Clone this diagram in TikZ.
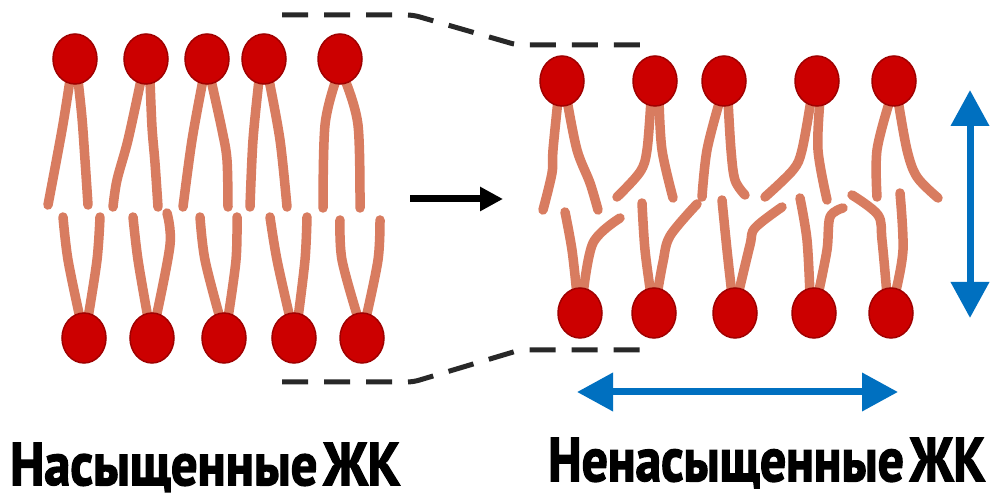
\documentclass[tikz,border=0pt]{standalone}
\usepackage{fontspec}
\usepackage{graphicx}
\newfontfamily\capfont{PT Sans}[BoldFeatures={FakeBold=2.5}]
\usetikzlibrary{arrows.meta,shapes.geometric}

\definecolor{headred}{RGB}{204,0,0}
\definecolor{headedge}{RGB}{160,0,0}
\definecolor{tailc}{RGB}{216,124,96}
\definecolor{dashc}{RGB}{40,40,40}
\definecolor{arrowblue}{RGB}{0,112,192}

\tikzset{
  head/.style={ellipse, fill=headred, draw=headedge, line width=1.5pt,
               minimum width=44pt, minimum height=50pt, inner sep=0pt},
  tail/.style={draw=tailc, line width=9.5pt, line cap=round, line join=round},
  guide/.style={draw=dashc, line width=5pt, dash pattern=on 26pt off 16pt,
                rounded corners=6pt},
  shift arrow/.style={draw=black, line width=7pt,
                -{Triangle[length=23pt,width=23pt]}},
  size arrow/.style={draw=arrowblue, line width=7pt,
                {Triangle[length=36pt,width=37pt]}-{Triangle[length=36pt,width=37pt]}},
  caption/.style={anchor=base west, inner sep=0pt, font=\capfont\bfseries},
}

\newcommand{\tailline}[1]{\draw[tail] plot[smooth, tension=0.55] coordinates {#1};}

\begin{document}
\begin{tikzpicture}[x=1pt,y=-1pt]
\useasboundingbox (0,0) rectangle (1002,502);
\fill[white] (0,0) rectangle (1002,502);

% ---- saturated bilayer: tails of the upper leaflet
\tailline{(70,80) (62,130) (48,205)}
\tailline{(78,80) (82,118) (85,160) (88,205)}
\tailline{(141,80) (128,140) (117,180) (113,207)}
\tailline{(150,80) (152,127) (155,163) (158,207)}
\tailline{(203,80) (192,140) (183,207)}
\tailline{(211,80) (222,130) (227,160) (228,207)}
\tailline{(259,80) (253,140) (250,207)}
\tailline{(269,80) (280,140) (287,207)}
\tailline{(336,80) (325,125) (323,208)}
\tailline{(345,80) (358,125) (360,208)}
% tails of the lower leaflet
\tailline{(80,318) (68,260) (63,217)}
\tailline{(88,318) (97,260) (100,217)}
\tailline{(148,318) (138,260) (133,217)}
\tailline{(156,318) (170,245) (167,213)}
\tailline{(220,318) (205,260) (200,217)}
\tailline{(228,318) (236,260) (237,217)}
\tailline{(290,318) (277,260) (270,217)}
\tailline{(298,318) (305,260) (307,217)}
\tailline{(358,318) (342,260) (340,220)}
\tailline{(366,318) (378,260) (380,220)}

% ---- unsaturated bilayer: kinked tails of the upper leaflet
\tailline{(558,100) (553,150) (552,173) (543,210)}
\tailline{(567,100) (577,150) (590,183) (598,210)}
\tailline{(651,100) (647,150) (640,172) (617,197)}
\tailline{(659,100) (662,150) (673,198)}
\tailline{(720,100) (707,150) (702,197)}
\tailline{(728,100) (731,150) (735,180) (745,195)}
\tailline{(811,100) (802,150) (793,170) (765,197)}
\tailline{(820,100) (818,150) (827,200)}
\tailline{(890,100) (877,150) (877,197)}
\tailline{(898,100) (907,150) (917,177) (938,198)}
% kinked tails of the lower leaflet
\tailline{(577,295) (572,250) (565,212)}
\tailline{(583,295) (593,243) (620,218)}
\tailline{(651,295) (645,250) (642,203)}
\tailline{(657,295) (663,262) (670,236) (697,204)}
\tailline{(732,295) (727,250) (722,200)}
\tailline{(738,295) (750,245) (755,228) (782,207)}
\tailline{(810,295) (807,240) (800,198)}
\tailline{(818,295) (827,250) (830,217) (843,208)}
\tailline{(887,295) (882,240) (878,215) (852,195)}
\tailline{(895,295) (903,250) (900,193)}

% ---- polar heads
\node[head] (sa1) at (75,59) {};
\node[head] (sa2) at (146,59) {};
\node[head] (sa3) at (207,59) {};
\node[head] (sa4) at (264,59) {};
\node[head] (sa5) at (340,59) {};
\node[head] (sb1) at (84,338) {};
\node[head] (sb2) at (152,338) {};
\node[head] (sb3) at (224,338) {};
\node[head] (sb4) at (294,338) {};
\node[head] (sb5) at (362,338) {};
\node[head] (ua1) at (562,81) {};
\node[head] (ua2) at (655,81) {};
\node[head] (ua3) at (724,81) {};
\node[head] (ua4) at (817,81) {};
\node[head] (ua5) at (894,81) {};
\node[head] (ub1) at (580,313) {};
\node[head] (ub2) at (654,313) {};
\node[head] (ub3) at (735,313) {};
\node[head] (ub4) at (814,313) {};
\node[head] (ub5) at (891,313) {};

% ---- dashed guides showing the change of thickness
\coordinate (gt0) at (282,15);
\coordinate (gt1) at (413,15);
\coordinate (gt2) at (517,45);
\coordinate (gt3) at (650,45);
\coordinate (gb0) at (282,382);
\coordinate (gb1) at (413,382);
\coordinate (gb2) at (520,350);
\coordinate (gb3) at (652,350);
\draw[guide] (gt0) -- (gt1) -- (gt2) -- (gt3);
\draw[guide] (gb0) -- (gb1) -- (gb2) -- (gb3);

% ---- arrows
\coordinate (sh0) at (410,199);
\coordinate (sh1) at (503,199);
\draw[shift arrow] (sh0) -- (sh1);
\coordinate (vt) at (970,90);
\coordinate (vb) at (970,318);
\draw[size arrow] (vt) -- (vb);
\coordinate (hl) at (577,392);
\coordinate (hr) at (898,392);
\draw[size arrow] (hl) -- (hr);

% ---- captions
\node[caption] (capl) at (10,485) {\resizebox{390pt}{42pt}{Насыщенные\hspace{0.12em}ЖК}};
\node[caption] (capr) at (548,481) {\resizebox{437pt}{43pt}{Ненасыщенные\hspace{0.12em}ЖК}};
\end{tikzpicture}
\end{document}
